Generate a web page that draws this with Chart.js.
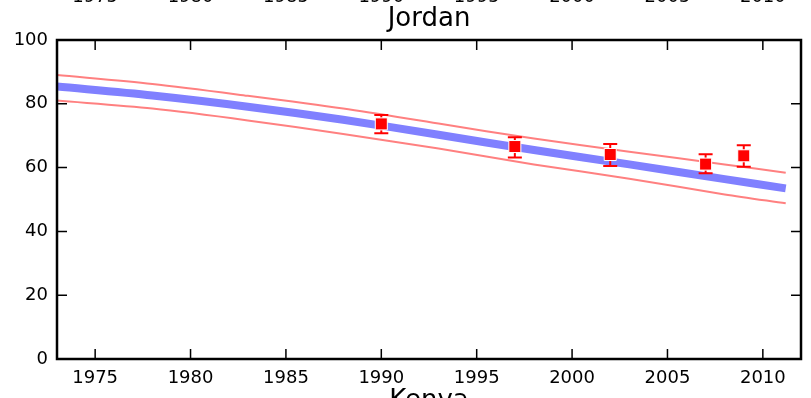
<!doctype html>
<html>
<head>
<title>Jordan</title>
<script src="https://cdn.jsdelivr.net/npm/chart.js@4.4.1/dist/chart.umd.min.js"></script>
<style>
	body { margin: 0; background: #fff; }
	canvas { display: block; }
</style>
</head>
<body>
<canvas id="chart" width="811" height="398"></canvas>
<script>
	var countryTitle = 'Jordan';
	var nextTitle = 'Kenya';

	// model curve (estimate with upper / lower band)
	var years = [1973, 1978, 1983, 1988, 1993, 1998, 2003, 2008, 2011.2];
	var estimate = [85.4, 82.6, 79.1, 75.0, 70.3, 65.5, 61.0, 56.4, 53.5];
	var upper = [89.0, 86.2, 82.5, 78.5, 73.8, 69.1, 65.0, 61.0, 58.4];
	var lower = [81.0, 78.5, 74.8, 70.5, 66.0, 61.0, 56.5, 51.6, 48.8];

	// survey observations with error bars
	var surveyYears = [1990, 1997, 2002, 2007, 2009];
	var surveyValues = [73.7, 66.6, 64.1, 61.1, 63.7];
	var surveyLow = [70.8, 63.2, 60.5, 58.2, 60.3];
	var surveyHigh = [76.5, 69.5, 67.4, 64.2, 67.0];

	var xTicks = [1975, 1980, 1985, 1990, 1995, 2000, 2005, 2010];
	var yTicks = [0, 20, 40, 60, 80, 100];

	function pairs(xs, ys) {
		return xs.map(function(x, i) { return {x: x, y: ys[i]}; });
	}

	var errorBars = {
		id: 'errorBars',
		beforeDatasetDraw: function(chart, args) {
			if (args.index !== 0) return;
			var ctx = chart.ctx, xs = chart.scales.x, ys = chart.scales.y;
			ctx.save();
			ctx.strokeStyle = '#ff0000';
			ctx.lineWidth = 2;
			surveyYears.forEach(function(yr, i) {
				var px = xs.getPixelForValue(yr);
				var top = ys.getPixelForValue(surveyHigh[i]);
				var bot = ys.getPixelForValue(surveyLow[i]);
				ctx.beginPath();
				ctx.moveTo(px, top); ctx.lineTo(px, bot);
				ctx.moveTo(px - 7, top); ctx.lineTo(px + 7, top);
				ctx.moveTo(px - 7, bot); ctx.lineTo(px + 7, bot);
				ctx.stroke();
			});
			ctx.restore();
		}
	};

	var frame = {
		id: 'frame',
		afterDraw: function(chart) {
			var ctx = chart.ctx, a = chart.chartArea;
			var xs = chart.scales.x, ys = chart.scales.y;
			ctx.save();
			ctx.strokeStyle = '#000';
			ctx.lineWidth = 1.5;
			ctx.beginPath();
			xTicks.forEach(function(v) {
				var px = xs.getPixelForValue(v);
				ctx.moveTo(px, a.bottom); ctx.lineTo(px, a.bottom - 10);
				ctx.moveTo(px, a.top); ctx.lineTo(px, a.top + 10);
			});
			yTicks.forEach(function(v) {
				var py = ys.getPixelForValue(v);
				ctx.moveTo(a.left, py); ctx.lineTo(a.left + 10, py);
				ctx.moveTo(a.right, py); ctx.lineTo(a.right - 10, py);
			});
			ctx.stroke();
			ctx.lineWidth = 2.5;
			ctx.strokeRect(a.left, a.top, a.right - a.left, a.bottom - a.top);

			ctx.fillStyle = '#000';
			ctx.textAlign = 'center';
			ctx.font = '26px "DejaVu Sans"';
			var cx = (a.left + a.right) / 2;
			ctx.textBaseline = 'alphabetic';
			ctx.fillText(countryTitle, cx, 26);
			ctx.textBaseline = 'top';
			ctx.fillText(nextTitle, cx, 388);
			// tick labels of the panel above, cut off by the page edge
			ctx.font = '18px "DejaVu Sans"';
			ctx.textBaseline = 'alphabetic';
			xTicks.forEach(function(v) {
				ctx.fillText(String(v), xs.getPixelForValue(v), 2);
			});
			ctx.restore();
		}
	};

	Chart.defaults.font.family = '"DejaVu Sans"';
	Chart.defaults.font.size = 18;
	Chart.defaults.color = '#000';

	new Chart(document.getElementById('chart'), {
		type: 'line',
		data: {
			datasets: [{
				label: 'survey',
				data: pairs(surveyYears, surveyValues),
				showLine: false,
				pointStyle: 'rect',
				pointRadius: 8.5,
				pointBackgroundColor: '#ff0000',
				pointBorderColor: '#ffffff',
				pointBorderWidth: 1
			}, {
				label: 'estimate',
				data: pairs(years, estimate),
				borderColor: '#8080ff',
				borderWidth: 8,
				pointRadius: 0,
				tension: 0.3
			}, {
				label: 'upper',
				data: pairs(years, upper),
				borderColor: '#ff8080',
				borderWidth: 2,
				pointRadius: 0,
				tension: 0.3
			}, {
				label: 'lower',
				data: pairs(years, lower),
				borderColor: '#ff8080',
				borderWidth: 2,
				pointRadius: 0,
				tension: 0.3
			}]
		},
		options: {
			responsive: false,
			animation: false,
			layout: { padding: { left: 0, right: 10, top: 40, bottom: 0 } },
			plugins: { legend: { display: false }, tooltip: { enabled: false } },
			scales: {
				x: {
					type: 'linear',
					min: 1973,
					max: 2012,
					afterBuildTicks: function(scale) {
						scale.ticks = xTicks.map(function(v) { return {value: v}; });
					},
					afterFit: function(scale) { scale.height = 39; },
					grid: { display: false, drawTicks: false },
					border: { display: false },
					ticks: {
						padding: 9, maxRotation: 0, autoSkip: false,
						callback: function(v) { return String(v); }
					}
				},
				y: {
					min: 0,
					max: 100,
					afterBuildTicks: function(scale) {
						scale.ticks = yTicks.map(function(v) { return {value: v}; });
					},
					afterFit: function(scale) { scale.width = 57; },
					grid: { display: false, drawTicks: false },
					border: { display: false },
					ticks: { padding: 9 }
				}
			}
		},
		plugins: [errorBars, frame]
	});
</script>
</body>
</html>
